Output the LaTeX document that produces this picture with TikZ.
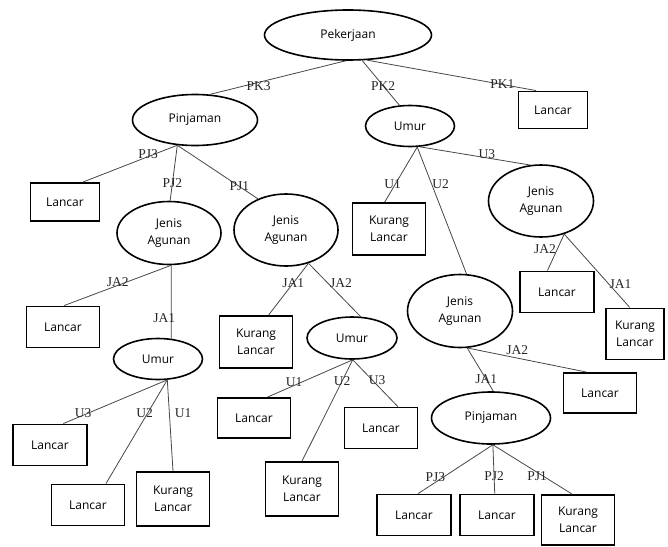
\documentclass[tikz,border=0pt]{standalone}
\usepackage{fontspec}
\newfontfamily\opensans{Open Sans}
\newfontfamily\libserif{Liberation Serif}
\usetikzlibrary{shapes.geometric}

\begin{document}
\begin{tikzpicture}[x=1pt, y=-1pt,
	oval/.style={draw, ellipse, line width=1.6pt, inner sep=0pt, align=center, font=\opensans\fontsize{12}{17}\selectfont},
	leaf/.style={draw, rectangle, line width=1.9pt, inner sep=0pt, minimum width=73pt, minimum height=41pt, align=center, font=\opensans\fontsize{12}{17}\selectfont},
	tall/.style={leaf, minimum height=53pt},
	edge/.style={line width=0.8pt, color=black!72},
	lbl/.style={font=\libserif\fontsize{13.5}{14}\selectfont, inner sep=0pt, color=black!85}]
		%%%%% START %%%%%
		\useasboundingbox (0,0) rectangle (668,546);
		
		\node[oval, minimum width=167pt, minimum height=50pt] (pek) at (348,35) {Pekerjaan};
		
		\node[oval, minimum width=125pt, minimum height=51pt] (pin1) at (195,120) {Pinjaman};
		\node[oval, minimum width=89pt, minimum height=41pt] (umur1) at (410,126) {Umur};
		\node[leaf, minimum width=69pt, minimum height=37pt] (lan1) at (553,110) {Lancar};
		
		\node[leaf, minimum width=69pt, minimum height=38pt] (lan2) at (65,202) {Lancar};
		\node[oval, minimum width=104pt, minimum height=63pt] (ja1) at (169,233) {Jenis\\Agunan};
		\node[oval, minimum width=104pt, minimum height=72pt] (ja2) at (286,230) {Jenis\\Agunan};
		\node[tall, minimum height=52pt] (kl1) at (389,229) {Kurang\\Lancar};
		\node[oval, minimum width=105pt, minimum height=72pt] (ja3) at (541,201) {Jenis\\Agunan};
		\node[oval, minimum width=105pt, minimum height=73pt] (ja4) at (460,311) {Jenis\\Agunan};
		
		\node[leaf] (lan3) at (63,327) {Lancar};
		\node[oval, minimum width=89pt, minimum height=41pt] (umur2) at (158,359) {Umur};
		\node[tall, minimum height=52pt] (kl2) at (256,342) {Kurang\\Lancar};
		\node[oval, minimum width=90pt, minimum height=42pt] (umur3) at (352,338) {Umur};
		\node[leaf, minimum width=74pt] (lan4) at (557,292) {Lancar};
		\node[tall, minimum width=58pt, minimum height=51pt] (kl3) at (635,334) {Kurang\\Lancar};
		\node[leaf, minimum height=40pt] (lan5) at (600,393) {Lancar};
		\node[oval, minimum width=119pt, minimum height=52pt] (pin2) at (491,418) {Pinjaman};
		
		\node[leaf, minimum height=40pt] (lan6) at (254,418) {Lancar};
		\node[tall, minimum height=54pt] (kl4) at (302,489) {Kurang\\Lancar};
		\node[leaf] (lan7) at (381,428) {Lancar};
		\node[leaf, minimum width=74pt] (lan8) at (50,445) {Lancar};
		\node[leaf] (lan9) at (88,505) {Lancar};
		\node[tall, minimum height=54pt] (kl5) at (173,499) {Kurang\\Lancar};
		\node[leaf, minimum width=74pt] (lan10) at (414,515) {Lancar};
		\node[leaf, minimum width=74pt] (lan11) at (497,515) {Lancar};
		\node[tall, minimum height=50pt] (kl6) at (578,520) {Kurang\\Lancar};
		
		\draw[edge] (pek.265) -- node[lbl, pos=0.64, yshift=-4pt] {PK3} (pin1.60);
		\draw[edge] (pek.-61) -- node[lbl, pos=0.565] {PK2} (umur1.117);
		\draw[edge] (pek.-53) -- node[lbl, pos=0.8] {PK1} (lan1.131);
		
		\draw[edge] (pin1.235) -- node[lbl, pos=0.31, yshift=3pt] {PJ3} (lan2.48);
		\draw[edge] (pin1.235) -- node[lbl, pos=0.68] {PJ2} (ja1.88);
		\draw[edge] (pin1.235) -- node[lbl, pos=0.77] {PJ1} (ja2.132);
		
		\draw[edge] (umur1.-71) -- node[lbl, pos=0.667, xshift=-3pt] {U1} (kl1.99);
		\draw[edge] (umur1.-71) -- node[lbl, pos=0.29, xshift=9pt] {U2} (ja4.80);
		\draw[edge] (umur1.-65) -- node[lbl, pos=0.61, yshift=4pt] {U3} (ja3.107);
		
		\draw[edge] (ja3.-55) -- node[lbl, pos=0.41, anchor=east, xshift=-1pt] {JA2} (lan4.114);
		\draw[edge] (ja3.-55) -- node[lbl, pos=0.684, anchor=west] {JA1} (kl3.101);
		
		\draw[edge] (ja1.-86) -- node[lbl, pos=0.5, yshift=3pt] {JA2} (lan3.87);
		\draw[edge] (ja1.-86) -- node[lbl, pos=0.72, xshift=-7pt] {JA1} (umur2.57);
		
		\draw[edge] (ja2.-56) -- node[lbl, pos=0.38] {JA1} (kl2.65);
		\draw[edge] (ja2.-56) -- node[lbl, pos=0.37, anchor=west, xshift=2pt] {JA2} (umur3.68);
		
		\draw[edge] (umur3.-88) -- node[lbl, pos=0.69, yshift=3pt] {U1} (lan6.57);
		\draw[edge] (umur3.-88) -- node[lbl, pos=0.21] {U2} (kl4.north);
		\draw[edge] (umur3.-88) -- node[lbl, pos=0.43, xshift=5pt] {U3} (lan7.52);
		
		\draw[edge] (umur2.-66) -- node[lbl, pos=0.81, yshift=2pt] {U3} (lan8.58);
		\draw[edge] (umur2.-66) -- node[lbl, pos=0.32, xshift=-3pt] {U2} (lan9.50);
		\draw[edge] (umur2.-66) -- node[lbl, pos=0.366, anchor=west, xshift=5pt] {U1} (kl5.north);
		
		\draw[edge] (ja4.-79) -- node[lbl, pos=0.73] {JA1} (pin2.85);
		\draw[edge] (ja4.-79) -- node[lbl, pos=0.42, yshift=8pt] {JA2} (lan5.123);
		
		\draw[edge] (pin2.-86) -- node[lbl, pos=0.77, yshift=5pt] {PJ3} (lan10.79);
		\draw[edge] (pin2.-86) -- node[lbl, pos=0.65] {PJ2} (lan11.96);
		\draw[edge] (pin2.-86) -- node[lbl, pos=0.56, yshift=-4pt] {PJ1} (kl6.103);
		
		%%%%% END %%%%%
	\end{tikzpicture}
\end{document}
